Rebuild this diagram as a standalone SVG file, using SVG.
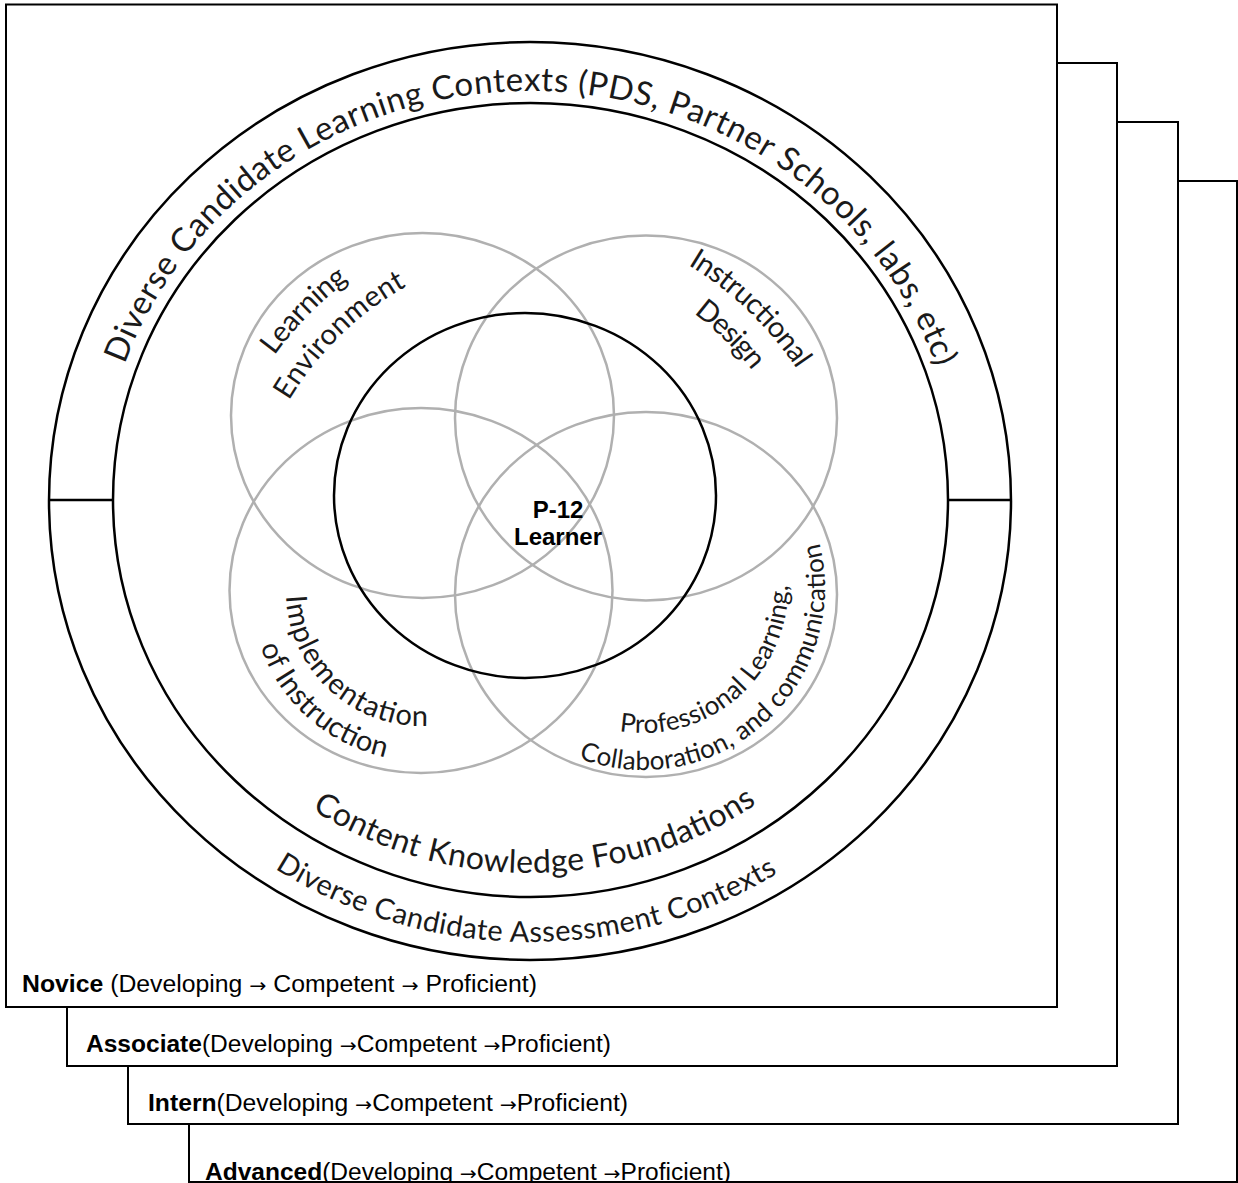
<svg xmlns="http://www.w3.org/2000/svg" width="1238" height="1183" viewBox="0 0 1238 1183">
<style>
.lvl{fill:#fff;stroke:#000;stroke-width:2}
.blk{fill:none;stroke:#000;stroke-width:2.5}
.gry{fill:none;stroke:#b0b0b0;stroke-width:2.5}
.arc{font-family:Lato,"Open Sans",sans-serif;fill:#1a1a1a}
.lbl{font-family:"Liberation Sans",Arial,sans-serif;font-size:23px;fill:#000}
.ar{font-family:"DejaVu Sans",sans-serif;font-size:19px}
.ctr{font-family:"Liberation Sans",Arial,sans-serif;font-size:24px;font-weight:bold;fill:#000}
</style>
<defs>
<path id="p_top" d="M124.7,364.1 A430,410 0 0 1 958.4,465.3"/>
<path id="p_ckf" d="M311.9,809.4 A390,372 0 0 0 828.8,740.1"/>
<path id="p_dca" d="M275.0,868.7 A462,441 0 0 0 873.3,796.1"/>
<path id="p_le1" d="M274.4,355.6 A358,358 0 0 1 441.6,229.6"/>
<path id="p_le2" d="M288.8,400.7 A321,321 0 0 1 480.9,255.9"/>
<path id="p_id1" d="M687.9,264.7 A353,353 0 0 1 835.7,445.3"/>
<path id="p_id2" d="M693.7,313.3 A316,316 0 0 1 790.4,432.5"/>
<path id="p_ii1" d="M286.1,595.9 A135,135 0 0 0 455.9,721.4"/>
<path id="p_ii2" d="M260.4,646.6 A170,170 0 0 0 421,761"/>
<path id="p_pl1" d="M619.3,731.1 A145,145 0 0 0 784.8,557.9"/>
<path id="p_pl2" d="M578.7,758.3 A182,182 0 0 0 800.6,497"/>
</defs>

<g id="level-advanced">
<rect class="lvl" x="189" y="181" width="1048" height="1001"/>
<text class="lbl" x="205" y="1180" textLength="526" lengthAdjust="spacingAndGlyphs"><tspan font-weight="bold">Advanced</tspan>(Developing <tspan class="ar">→</tspan>Competent <tspan class="ar">→</tspan>Proficient)</text>
</g>
<g id="level-intern">
<rect class="lvl" x="128" y="122" width="1050" height="1002"/>
<text class="lbl" x="148" y="1111" textLength="480" lengthAdjust="spacingAndGlyphs"><tspan font-weight="bold">Intern</tspan>(Developing <tspan class="ar">→</tspan>Competent <tspan class="ar">→</tspan>Proficient)</text>
</g>
<g id="level-associate">
<rect class="lvl" x="67" y="63" width="1050" height="1003"/>
<text class="lbl" x="86" y="1052" textLength="525" lengthAdjust="spacingAndGlyphs"><tspan font-weight="bold">Associate</tspan>(Developing <tspan class="ar">→</tspan>Competent <tspan class="ar">→</tspan>Proficient)</text>
</g>
<g id="level-novice">
<rect class="lvl" x="6" y="4.5" width="1051" height="1002.5"/>
<text class="lbl" x="22" y="992" textLength="515" lengthAdjust="spacingAndGlyphs"><tspan font-weight="bold">Novice</tspan> (Developing <tspan class="ar">→</tspan> Competent <tspan class="ar">→</tspan> Proficient)</text>
</g>

<g id="contexts-ring">
<ellipse class="blk" cx="530" cy="501" rx="481" ry="459"/>
<line class="blk" x1="49" y1="500" x2="113" y2="500"/>
<line class="blk" x1="948" y1="500" x2="1011" y2="500"/>
<text class="arc" font-size="33"><textPath href="#p_top" textLength="1043">Diverse Candidate Learning Contexts (PDS, Partner Schools, labs, etc)</textPath></text>
<text class="arc" font-size="29"><textPath href="#p_dca" textLength="529">Diverse Candidate Assessment Contexts</textPath></text>
</g>
<g id="content-knowledge">
<ellipse class="blk" cx="530.5" cy="500" rx="417.5" ry="397"/>
<text class="arc" font-size="32"><textPath href="#p_ckf" textLength="471">Content Knowledge Foundations</textPath></text>
</g>

<g id="learning-environment">
<ellipse class="gry" cx="422.5" cy="415.5" rx="191.5" ry="182.5"/>
<text class="arc" font-size="29"><textPath href="#p_le1" textLength="106">Learning</textPath></text>
<text class="arc" font-size="29"><textPath href="#p_le2" textLength="166">Environment</textPath></text>
</g>
<g id="instructional-design">
<ellipse class="gry" cx="646" cy="418" rx="191" ry="182.5"/>
<text class="arc" font-size="29"><textPath href="#p_id1" textLength="152">Instructional</textPath></text>
<text class="arc" font-size="29"><textPath href="#p_id2" textLength="82">Design</textPath></text>
</g>
<g id="implementation">
<ellipse class="gry" cx="421" cy="590.5" rx="191.5" ry="182.5"/>
<text class="arc" font-size="29"><textPath href="#p_ii1" textLength="214">Implementation</textPath></text>
<text class="arc" font-size="29"><textPath href="#p_ii2" textLength="174">of Instruction</textPath></text>
</g>
<g id="professional-learning">
<ellipse class="gry" cx="646" cy="594.5" rx="191" ry="182.5"/>
<text class="arc" font-size="26"><textPath href="#p_pl1" textLength="254">Professional Learning,</textPath></text>
<text class="arc" font-size="26"><textPath href="#p_pl2" textLength="397">Collaboration, and communication</textPath></text>
</g>

<g id="p12-learner">
<ellipse class="blk" cx="525" cy="495.5" rx="191" ry="182.5"/>
<text class="ctr" x="558" y="518" text-anchor="middle">P-12</text>
<text class="ctr" x="558" y="545" text-anchor="middle">Learner</text>
</g>

<g id="connectors"></g>
</svg>
